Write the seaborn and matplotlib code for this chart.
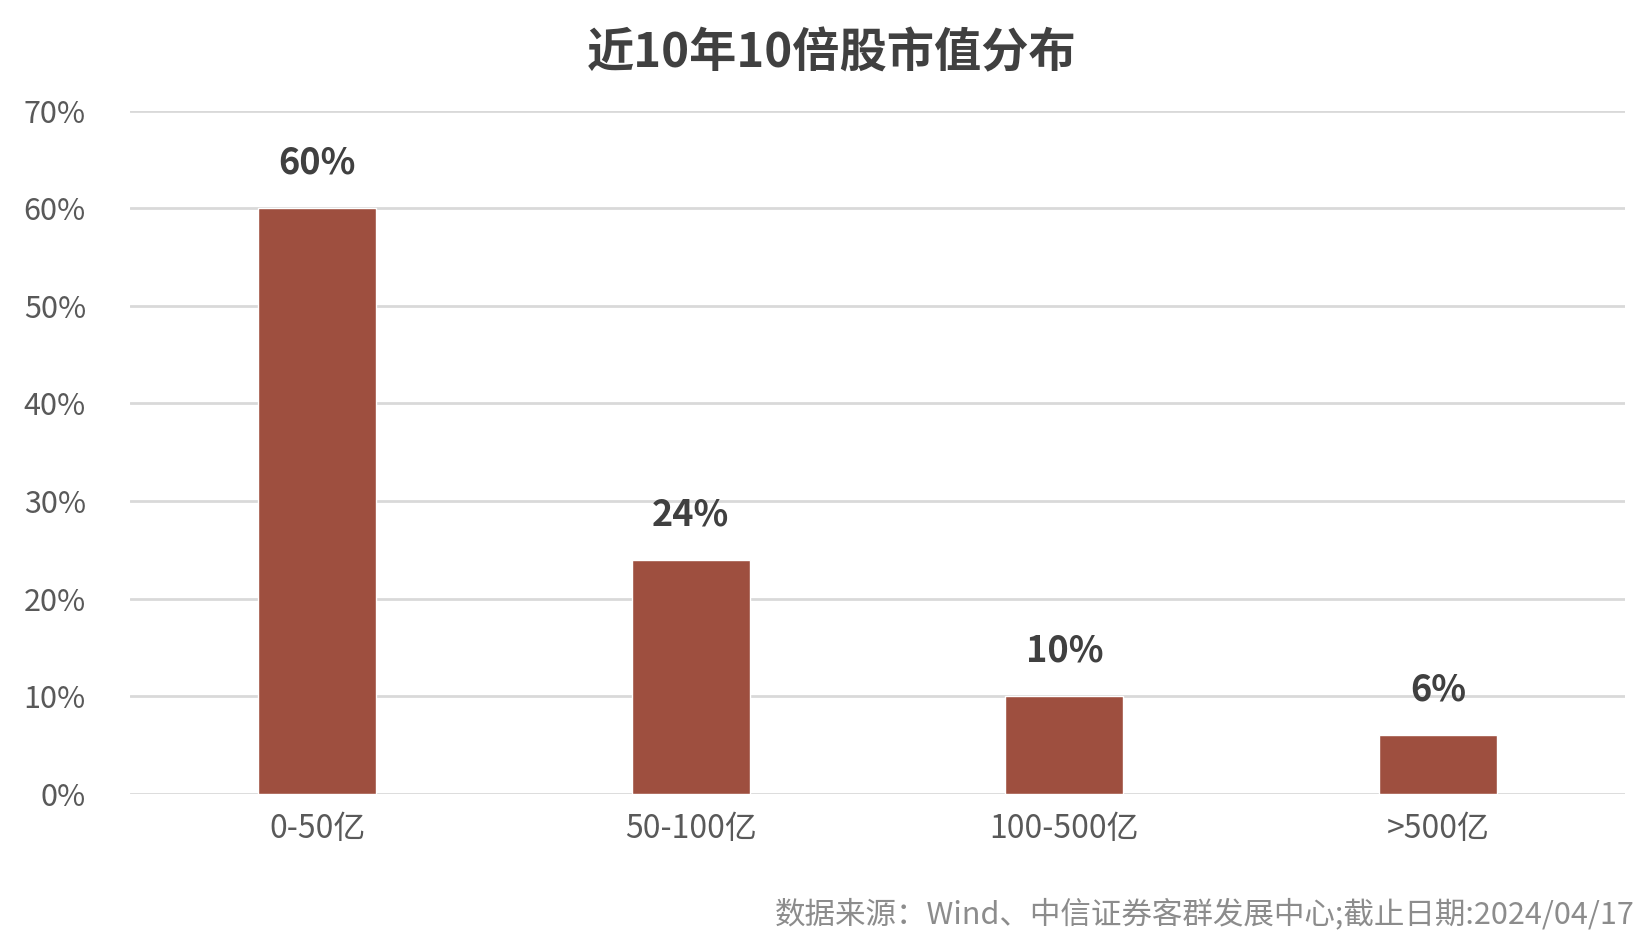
import matplotlib
matplotlib.use("Agg")
import matplotlib.pyplot as plt
import seaborn as sns
import pandas as pd

categories = ["0-50亿", "50-100亿", "100-500亿", ">500亿"]
values = [60, 24, 10, 6]
yticks = [0, 10, 20, 30, 40, 50, 60, 70]

sns.set_theme(style="white")
plt.rcParams['font.family'] = ['Noto Sans CJK SC', 'DejaVu Sans']

df = pd.DataFrame({"cat": categories, "val": values})
fig = plt.figure(figsize=(16.51, 9.46), dpi=100)
ax = fig.add_axes([0.079, 0.161, 0.905, 0.722])
sns.barplot(data=df, x="cat", y="val", color="#9E4F3F", width=0.315, ax=ax, saturation=1, zorder=3)
ax.set_ylim(0, 70)
ax.set_yticks(yticks)
ax.set_yticklabels([f"{t}%" for t in yticks], fontsize=22, color="#595959")
ax.tick_params(axis='x', labelsize=23, colors="#595959", length=0, pad=14)
ax.tick_params(axis='y', length=0, pad=32)
ax.grid(axis='y', color="#D9D9D9", linewidth=2, zorder=0)
ax.set_xlabel("")
ax.set_ylabel("")
for s in ax.spines.values():
    s.set_visible(False)
for i, v in enumerate(values):
    ax.text(i, v + 2.7, f"{v}%", ha="center", va="bottom", fontsize=26, fontweight="bold", color="#404040")
fig.text(0.504, 0.944, "近10年10倍股市值分布", ha="center", va="center", fontsize=34, fontweight="bold", color="#404040")
fig.text(0.990, 0.033, "数据来源：Wind、中信证券客群发展中心;截止日期:2024/04/17", ha="right", va="center", fontsize=22, color="#8C8C8C")
fig.savefig("out.png", dpi=100)
